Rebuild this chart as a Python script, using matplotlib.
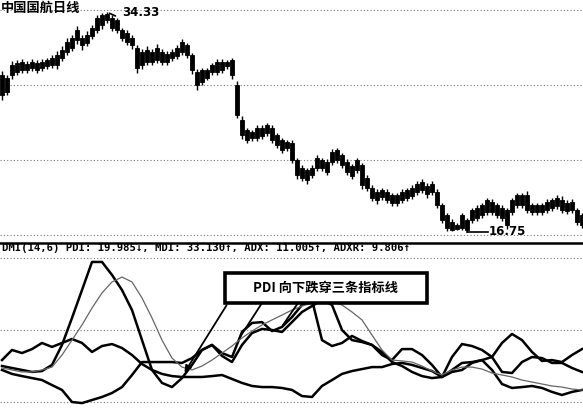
import numpy as np
import matplotlib
matplotlib.use("Agg")
import matplotlib.pyplot as plt
from matplotlib.patches import Rectangle

plt.rcParams['font.family'] = ['Noto Sans CJK SC', 'DejaVu Sans']

# -----------------------------
# Daily candles (price)
# -----------------------------
opens = [27.70, 29.06, 29.30, 30.26, 29.70, 30.18, 29.86, 30.26, 29.86, 30.02,
         30.66, 30.10, 30.66, 31.14, 32.26, 32.10, 32.26, 31.86, 32.42, 32.90,
         33.30, 34.18, 33.86, 33.70, 32.90, 32.66, 32.26, 31.46, 30.10, 31.30,
         30.34, 31.46, 31.14, 30.34, 30.66, 30.82, 31.14, 31.70, 30.90, 29.54,
         28.74, 29.70, 29.54, 29.54, 30.34, 30.02, 30.50, 28.50, 25.70, 24.90,
         24.26, 24.26, 25.06, 24.66, 25.06, 24.50, 24.10, 23.46, 23.86, 22.50,
         21.86, 20.90, 21.30, 21.86, 22.50, 22.34, 22.34, 22.50, 22.90, 22.34,
         22.02, 21.70, 22.10, 21.06, 20.26, 19.94, 19.54, 19.94, 19.70, 19.06,
         19.30, 19.46, 19.62, 19.94, 20.10, 20.42, 19.94, 19.94, 18.90, 18.10,
         17.54, 16.98, 17.06, 17.70, 17.70, 18.66, 18.10, 18.34, 19.14, 18.90,
         18.66, 18.50, 18.34, 18.90, 19.70, 19.70, 18.90, 18.34, 18.34, 18.50,
         18.66, 18.82, 19.30, 19.06, 18.50, 18.50, 18.10]
closes = [29.30, 27.94, 30.10, 29.54, 30.34, 29.70, 30.34, 29.70, 30.34, 30.50,
          30.10, 30.90, 31.30, 31.94, 31.46, 32.90, 31.70, 32.50, 33.06, 33.86,
          34.10, 33.70, 33.06, 32.90, 32.26, 31.94, 31.70, 29.86, 31.14, 30.34,
          31.14, 30.50, 30.34, 30.98, 31.14, 31.46, 31.94, 30.90, 29.70, 28.50,
          29.70, 29.06, 30.10, 30.34, 29.70, 30.34, 29.30, 26.10, 24.50, 24.10,
          24.74, 25.06, 24.42, 25.30, 24.10, 23.70, 23.30, 23.94, 22.50, 21.30,
          21.06, 21.70, 21.86, 22.66, 21.86, 21.54, 23.14, 23.30, 22.10, 21.54,
          21.22, 22.50, 20.50, 20.26, 19.46, 19.30, 20.10, 19.30, 19.06, 19.70,
          19.94, 20.10, 20.26, 20.58, 20.74, 19.78, 20.58, 18.90, 17.70, 17.06,
          16.90, 17.30, 18.10, 16.90, 18.50, 17.86, 18.90, 19.30, 18.34, 18.10,
          17.86, 17.30, 19.30, 19.70, 18.90, 18.50, 18.34, 18.90, 18.90, 19.14,
          19.30, 19.46, 18.50, 18.42, 19.14, 17.54, 17.30]
highs = [29.6, 29.3, 30.4, 30.5, 30.6, 30.4, 30.6, 30.5, 30.6, 30.7,
         30.9, 31.2, 31.6, 32.3, 32.5, 33.2, 32.5, 32.8, 33.3, 34.1,
         34.3, 34.33, 34.1, 33.9, 33.1, 32.9, 32.5, 31.7, 31.4, 31.6,
         31.4, 31.8, 31.4, 31.2, 31.4, 31.7, 32.2, 31.9, 31.1, 29.8,
         29.9, 29.9, 30.3, 30.6, 30.6, 30.5, 30.7, 28.8, 26.0, 25.1,
         24.9, 25.3, 25.3, 25.5, 25.3, 24.7, 24.3, 24.1, 24.1, 22.7,
         22.1, 21.9, 22.1, 22.9, 22.7, 22.6, 23.4, 23.5, 23.1, 22.6,
         22.2, 22.7, 22.3, 21.3, 20.5, 20.2, 20.3, 20.2, 19.9, 19.9,
         20.2, 20.3, 20.5, 20.8, 21.0, 20.7, 20.8, 20.2, 19.1, 18.3,
         17.8, 17.5, 18.3, 17.9, 18.7, 18.9, 19.1, 19.5, 19.4, 19.1,
         18.9, 18.7, 19.5, 19.9, 19.9, 20.0, 19.1, 19.1, 19.1, 19.4,
         19.5, 19.7, 19.6, 19.3, 19.4, 18.7, 18.3]
lows = [27.3, 27.7, 29.0, 29.3, 29.5, 29.5, 29.6, 29.5, 29.6, 29.8,
        29.9, 29.8, 30.4, 30.9, 31.2, 31.8, 31.3, 31.6, 32.2, 32.7,
        33.0, 33.5, 32.8, 32.7, 32.0, 31.7, 31.4, 29.5, 29.8, 30.1,
        30.1, 30.3, 30.1, 30.1, 30.4, 30.6, 30.9, 30.7, 29.4, 28.1,
        28.5, 28.9, 29.3, 29.3, 29.5, 29.8, 29.0, 25.9, 24.2, 23.9,
        24.0, 24.0, 24.2, 24.4, 23.9, 23.5, 23.1, 23.2, 22.3, 21.0,
        20.8, 20.6, 21.1, 21.6, 21.6, 21.3, 22.1, 22.3, 21.9, 21.3,
        21.0, 21.5, 20.2, 20.0, 19.2, 19.0, 19.3, 19.1, 18.8, 18.8,
        19.1, 19.2, 19.4, 19.7, 19.9, 19.5, 19.7, 18.7, 17.5, 16.8,
        16.8, 16.9, 16.9, 16.75, 17.5, 17.6, 17.9, 18.1, 18.1, 17.9,
        17.6, 17.0, 18.1, 18.7, 18.7, 18.3, 18.1, 18.1, 18.1, 18.3,
        18.4, 18.6, 18.3, 18.2, 18.3, 17.3, 17.1]
price_grid = [34.5, 28.5, 22.5, 16.5]

# -----------------------------
# DMI(14,6) lines, read every 2nd bar
# -----------------------------
pdi = [20.0, 18.9, 17.8, 16.7, 17.2, 20.6, 31.7, 46.7, 62.2, 77.8,
       77.8, 70.6, 62.2, 51.1, 34.4, 17.8, 10.6, 8.3, 13.3, 20.6,
       28.9, 31.7, 27.2, 25.0, 38.9, 43.9, 44.4, 39.4, 41.7, 47.2,
       53.9, 56.7, 34.4, 31.1, 32.8, 36.7, 33.9, 31.7, 26.1, 23.3,
       29.4, 29.4, 26.1, 20.6, 13.9, 25.0, 32.2, 31.1, 28.9, 25.0,
       16.7, 16.1, 22.2, 25.0, 24.4, 21.7, 21.7, 18.9, 16.7]
mdi = [17.8, 15.6, 14.4, 13.3, 12.2, 9.4, 6.7, 0.0, -0.6, 1.1,
       2.8, 5.0, 8.3, 15.0, 22.2, 22.2, 22.2, 22.2, 21.7, 24.4,
       28.9, 31.7, 25.6, 22.2, 31.7, 38.3, 40.6, 40.0, 38.9, 44.4,
       50.0, 53.3, 56.7, 53.9, 40.0, 34.4, 33.3, 31.7, 27.8, 22.2,
       20.0, 16.7, 14.4, 13.3, 13.9, 16.7, 17.8, 21.7, 23.3, 25.0,
       32.8, 37.8, 34.4, 27.8, 22.8, 23.3, 22.2, 26.1, 29.4]
adx = [23.3, 28.9, 27.2, 29.4, 32.8, 30.6, 32.8, 35.0, 32.8, 27.8,
       31.1, 32.2, 30.0, 26.1, 21.1, 17.8, 15.6, 14.4, 13.9, 13.9,
       13.9, 14.4, 15.0, 12.8, 10.6, 8.9, 8.3, 8.3, 7.8, 6.7,
       3.3, 2.8, 8.9, 12.2, 15.6, 17.2, 18.3, 19.4, 19.4, 21.1,
       21.7, 20.6, 18.9, 17.2, 13.9, 17.8, 21.7, 22.2, 23.3, 17.8,
       10.0, 7.8, 8.3, 8.9, 7.8, 5.6, 3.9, 5.6, 6.7]
adxr = [18.9, 17.8, 16.7, 16.7, 17.8, 19.4, 26.1, 34.4, 42.8, 52.2,
        60.6, 66.7, 69.4, 66.7, 57.8, 46.7, 34.4, 24.4, 19.4, 17.8,
        20.0, 23.3, 27.2, 31.1, 35.6, 39.4, 42.8, 45.6, 48.3, 51.1,
        53.3, 55.0, 56.7, 55.6, 53.9, 50.0, 45.6, 37.2, 28.9, 23.3,
        22.8, 22.2, 20.0, 17.2, 15.0, 17.8, 19.4, 19.4, 18.3, 16.1,
        15.0, 13.9, 12.2, 11.1, 10.0, 8.9, 8.3, 7.2, 6.7]
dmi_grid = [80, 40, 0]
dmi_label = "DMI(14,6) PDI: 19.985↓, MDI: 33.130↑, ADX: 11.005↑, ADXR: 9.806↑"

# -----------------------------
# Figure
# -----------------------------
fig = plt.figure(figsize=(5.83, 4.08), dpi=100)
ax = fig.add_axes([0, 0.4044, 1, 0.5956])
ax2 = fig.add_axes([0, 0, 1, 0.4044])
for a in (ax, ax2):
    a.set_xlim(-0.4, 116.2)
    a.set_xticks([])
    a.set_yticks([])
    for s in a.spines.values():
        s.set_visible(False)
ax.set_ylim(15.86, 35.3)
ax2.set_ylim(-3.33, 88.33)
ax2.spines['top'].set_visible(True)
ax2.spines['top'].set_linewidth(1.8)

for p in price_grid:
    ax.axhline(p, color='#777777', lw=0.8, ls=(0, (1, 2)), zorder=0)
for v in dmi_grid:
    ax2.axhline(v, color='#777777', lw=0.8, ls=(0, (1, 2)), zorder=0)

# candles
x = np.arange(len(opens))
o = np.array(opens)
c = np.array(closes)
ax.vlines(x, lows, highs, color='black', lw=1.0, zorder=2)
ax.bar(x, np.abs(c - o), bottom=np.minimum(o, c), width=0.7,
       color='black', edgecolor='black', lw=0.6, zorder=3)

top_i = int(np.argmax(highs))
low_i = int(np.argmin(lows))
ax.annotate("", xy=(top_i, highs[top_i]), xytext=(top_i + 2.2, highs[top_i] - 0.4),
            arrowprops=dict(arrowstyle='-', color='black', lw=1.2))
ax.text(top_i + 3, highs[top_i], f"{highs[top_i]:.2f}", fontsize=8.5,
        fontweight='bold', family='DejaVu Sans', va='center', ha='left')
ax.plot([low_i, low_i + 4.2], [lows[low_i], lows[low_i]], color='black', lw=1.2)
ax.text(low_i + 4.4, lows[low_i], f"{lows[low_i]:.2f}", fontsize=8.5,
        fontweight='bold', family='DejaVu Sans', va='center', ha='left')

fig.text(0.002, 0.999, "中国国航日线", fontsize=9.5, fontweight='bold',
         va='top', ha='left')

# DMI lines
xl = np.arange(0, len(opens), 2)
ax2.plot(xl, pdi, color='black', lw=1.8, zorder=3)
ax2.plot(xl, mdi, color='black', lw=1.8, zorder=3)
ax2.plot(xl, adx, color='black', lw=1.8, zorder=3)
ax2.plot(xl, adxr, color='#666666', lw=0.9, zorder=3)

ax2.text(0, 85.5, dmi_label, fontsize=7.7, fontweight='bold',
         family=['DejaVu Sans Mono'], va='center', ha='left')

# callout box with pointers
ax2.add_patch(Rectangle((44.6, 55), 40.4, 16.7, facecolor='white',
                        edgecolor='black', lw=2.6, zorder=5))
ax2.text(64.8, 63.3, "PDI 向下跌穿三条指标线", fontsize=9.5, fontweight='bold',
         ha='center', va='center', zorder=6)
ax2.annotate("", xy=(36.2, 15), xytext=(45.2, 55),
             arrowprops=dict(arrowstyle='-|>', color='black', lw=1.3,
                             mutation_scale=10), zorder=4)
ax2.plot([52, 47.6], [55, 36.1], color='black', lw=1.3, zorder=4)
ax2.plot([59.2, 56.2], [55, 42.8], color='black', lw=1.3, zorder=4)

fig.savefig("out.png", dpi=100)
